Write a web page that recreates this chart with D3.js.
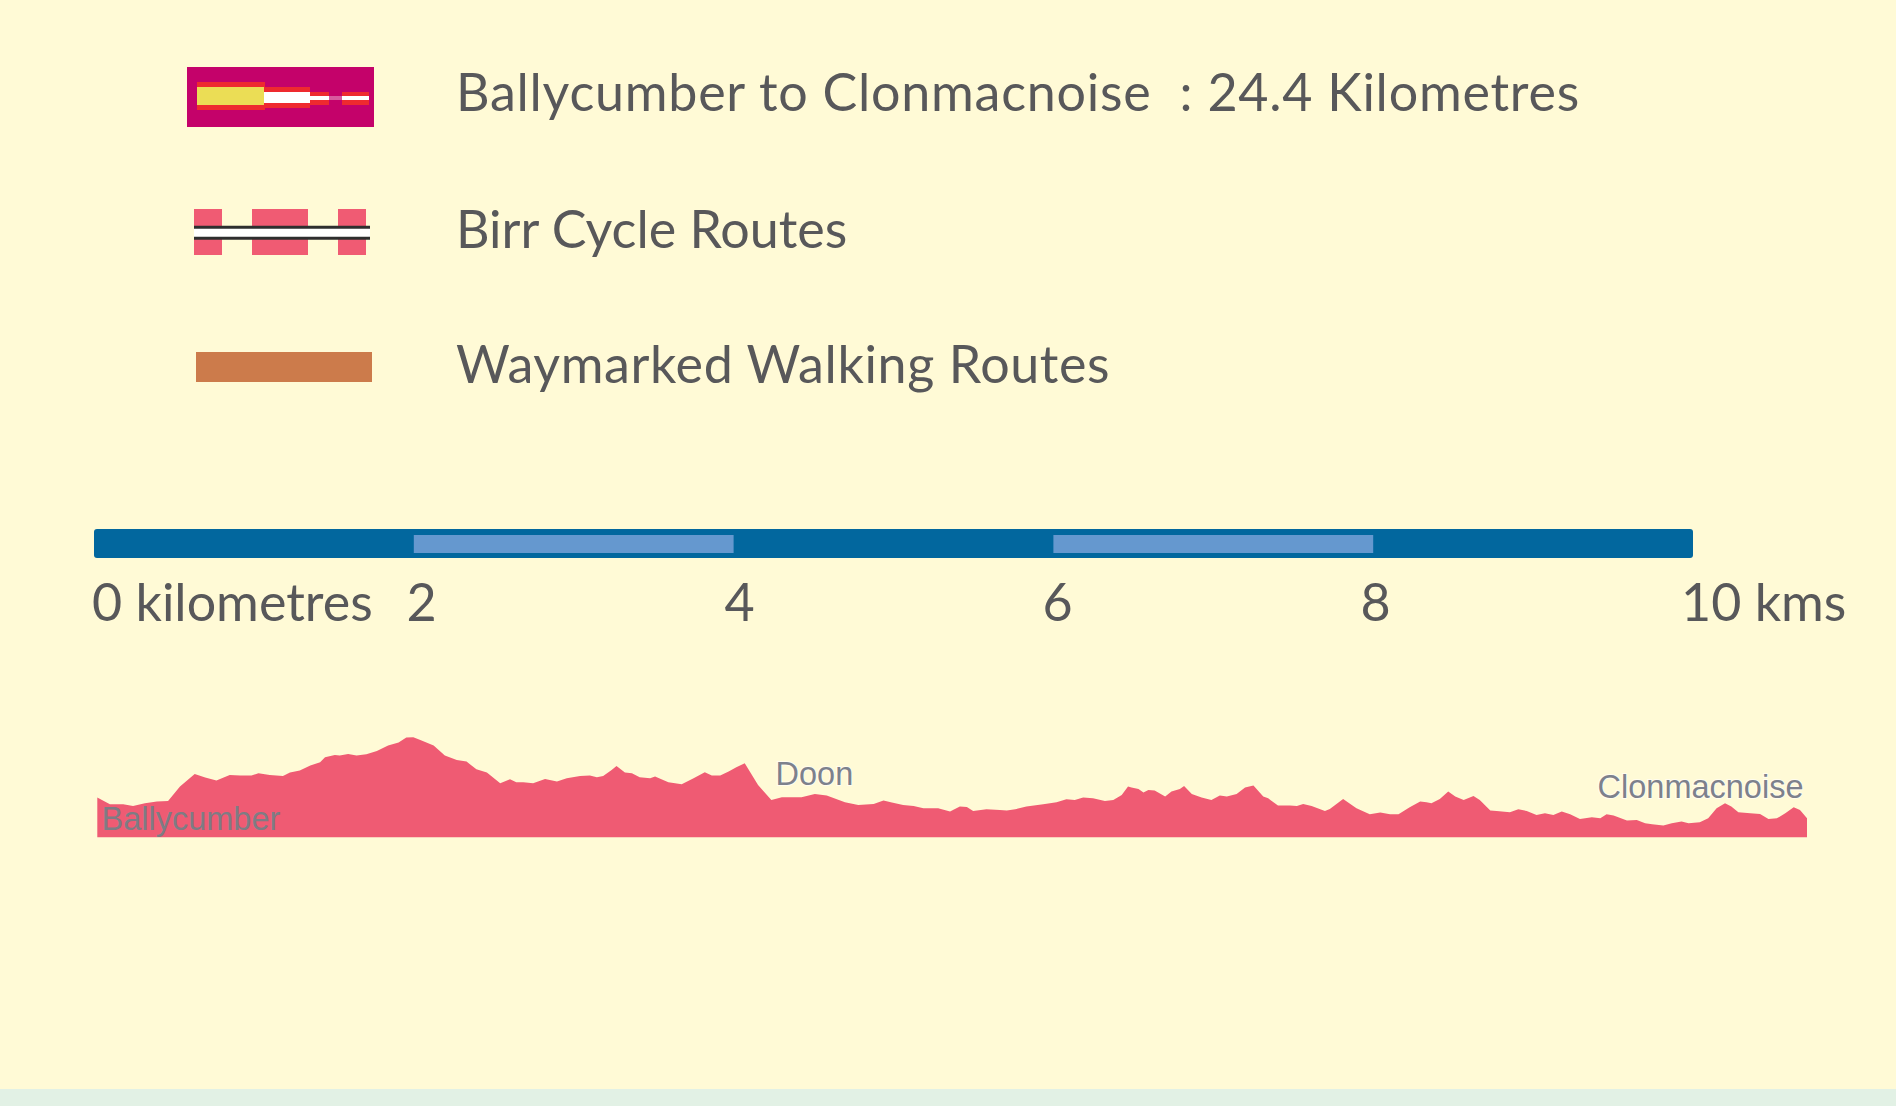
<!DOCTYPE html>
<html>
<head>
<meta charset="utf-8">
<script src="https://cdnjs.cloudflare.com/ajax/libs/d3/7.8.5/d3.min.js"></script>
<style>
  html, body { margin: 0; padding: 0; background: #fffad6; overflow: hidden; }
  svg { display: block; }
</style>
</head>
<body>
<svg id="chart"></svg>
<script>
// legend
const legendKeys = ['route', 'cycle', 'walk'];
const legendLabels = [
    'Ballycumber to Clonmacnoise  : 24.4 Kilometres',
    'Birr Cycle Routes',
    'Waymarked Walking Routes'
];

// scale bar (kilometres)
const scaleTicks = [0, 2, 4, 6, 8, 10];
const scaleTickLabels = ['0 kilometres', '2', '4', '6', '8', '10 kms'];
const scaleBands = [[2, 4], [6, 8]];

// elevation profile, distance along route (km) and height (approx, m)
const profileKm = [
    0, 0.18, 0.37, 0.51, 0.68, 0.85, 1.01, 1.18, 1.39, 1.54, 1.70, 1.89, 2.04, 2.20, 2.30, 2.46, 2.65, 2.75, 2.89, 3.04,
    3.18, 3.25, 3.39, 3.46, 3.58, 3.70, 3.84, 3.99, 4.15, 4.30, 4.41, 4.51, 4.61, 4.80, 4.96, 5.13, 5.27, 5.41, 5.56, 5.75,
    5.89, 5.98, 6.08, 6.22, 6.39, 6.56, 6.70, 6.89, 7.03, 7.13, 7.22, 7.34,
    7.41, 7.53, 7.63, 7.74, 7.89, 7.96, 8.15, 8.34, 8.51, 8.67, 8.77, 8.89, 9.01, 9.12, 9.24, 9.43, 9.62, 9.77, 10.05, 10.24,
    10.41, 10.67, 10.86, 11.08, 11.22, 11.34, 11.50, 11.65, 11.79, 12.00, 12.17, 12.31, 12.41, 12.50, 12.69, 12.88, 12.98, 13.10, 13.26, 13.50,
    13.69, 13.83, 13.95, 14.07, 14.21, 14.38, 14.50, 14.62, 14.71, 14.76,
    14.86, 14.93, 15.00, 15.09, 15.24, 15.33, 15.45, 15.51, 15.62, 15.76, 15.90, 16.02, 16.12, 16.26, 16.38, 16.50, 16.64, 16.71, 16.85, 17.02,
    17.12, 17.21, 17.33, 17.52, 17.59, 17.78, 17.97, 18.16, 18.31, 18.45, 18.57, 18.73, 18.88, 18.97, 19.04, 19.16, 19.28, 19.38, 19.50, 19.64,
    19.73, 19.88, 19.97, 20.16, 20.28, 20.40, 20.54, 20.66, 20.78, 20.90, 21.02, 21.16, 21.33, 21.45, 21.54, 21.64, 21.83, 21.97, 22.09, 22.19,
    22.35, 22.47, 22.61, 22.71, 22.87, 22.99, 23.11, 23.23, 23.32, 23.42, 23.59, 23.73, 23.85, 23.97, 24.09, 24.21, 24.30, 24.40
];
const profileHeight = [
    39.7, 33, 33, 31.3, 34, 35.7, 36.3, 50.7, 63.3, 59.7, 56.7, 62.3, 61.7, 61.7, 64, 62.3, 61.3, 64.7, 66.7, 71.7,
    75, 80, 82.3, 81.7, 83.3, 81.7, 83, 86.3, 91.7, 94.7, 99.7, 100, 97.3, 91.7, 81.7, 77.3, 75.7, 68, 64.7, 54,
    58, 55, 55, 54, 58.3, 55.7, 59, 61.3, 61.7, 60, 61.3, 67.3,
    71.3, 64.7, 64, 60, 59, 60.7, 55, 53, 59, 65, 61.7, 61.7, 65.7, 70, 74, 52.3, 37.3, 40, 40, 43.3,
    41.7, 35, 32.3, 33.3, 36.7, 34.7, 32.3, 31.3, 29, 29, 25.7, 30.7, 30.3, 26.3, 28, 27.3, 26.7, 28, 30.7, 33,
    35, 38, 37.3, 39.7, 39, 36.3, 37.3, 42.3, 50.7, 49.7,
    48.3, 44.7, 47.3, 46.7, 40.7, 45.7, 48.3, 51.3, 43.3, 39.7, 37.3, 41.7, 40.7, 43.3, 49.7, 51.7, 40.7, 39, 31.7, 31.7,
    31.3, 33.3, 31.3, 26.3, 28.3, 38.3, 29, 23, 24.7, 23, 23, 30, 35.7, 35, 34, 38.3, 45.7, 40.7, 37.3, 41.3,
    37.3, 26.7, 26.3, 25, 28, 26.3, 22.3, 24, 22.3, 25.7, 23, 18.3, 20, 19, 23, 21.7, 16.7, 17.3, 14, 13,
    11.7, 14, 15.7, 14, 15, 19, 29, 34, 30.7, 25, 24, 23.3, 18.3, 19, 24, 30, 27.3, 19
];

// place names on the profile (anchor distance / height)
const placeNames = ['Ballycumber', 'Doon', 'Clonmacnoise'];
const placeKm = [0.06, 9.68, 24.35];
const placeHeight = [7, 52, 39];

const width = 1896, height = 1106;
const legendFont = 'Lato, "Noto Sans", sans-serif';
const textGrey = '#58585a';

const svg = d3.select('#chart')
    .attr('width', width)
    .attr('height', height);

// fondo
svg.append('rect').attr('width', width).attr('height', height).attr('fill', '#fffad6');
svg.append('rect').attr('y', 1089).attr('width', width).attr('height', height - 1089).attr('fill', '#e2f1e5');

// LEYENDA
const rowY = d3.scalePoint().domain(legendKeys).range([97, 367]);

const legend = svg.append('g');
legendKeys.forEach((key, i) => {
    const g = legend.append('g').attr('transform', `translate(0, ${rowY(key)})`);

    if (key === 'route') {
        g.append('rect').attr('x', 187).attr('y', -30).attr('width', 187).attr('height', 60).attr('fill', '#c4026a');
        // bordes rojos
        g.append('rect').attr('x', 197).attr('y', -15).attr('width', 68).attr('height', 28).attr('fill', '#ee2a2f');
        g.append('rect').attr('x', 264).attr('y', -10).attr('width', 46).attr('height', 21).attr('fill', '#ee2a2f');
        g.append('rect').attr('x', 310).attr('y', -5).attr('width', 19).attr('height', 13).attr('fill', '#ee2a2f');
        g.append('rect').attr('x', 342).attr('y', -5).attr('width', 27).attr('height', 13).attr('fill', '#ee2a2f');
        // relleno
        g.append('rect').attr('x', 197).attr('y', -10).attr('width', 67).attr('height', 18).attr('fill', '#ebdd55');
        g.append('rect').attr('x', 264).attr('y', -5).attr('width', 46).attr('height', 11).attr('fill', '#ffffff');
        g.append('rect').attr('x', 310).attr('y', -1).attr('width', 59).attr('height', 4).attr('fill', '#ffffff').attr('opacity', 0.35);
        g.append('rect').attr('x', 310).attr('y', -1).attr('width', 19).attr('height', 4).attr('fill', '#ffffff');
        g.append('rect').attr('x', 342).attr('y', -1).attr('width', 27).attr('height', 4).attr('fill', '#ffffff');
    } else if (key === 'cycle') {
        [[194, 28], [252, 56], [338, 28]].forEach(([x, w]) => {
            g.append('rect').attr('x', x).attr('y', -23).attr('width', w).attr('height', 46).attr('fill', '#f05b73');
        });
        g.append('rect').attr('x', 194).attr('y', -5).attr('width', 176).attr('height', 11).attr('fill', '#ffffff');
        [-4.7, 6.3].forEach(dy => {
            g.append('line').attr('x1', 194).attr('x2', 370).attr('y1', dy).attr('y2', dy)
                .attr('stroke', '#2e2e2e').attr('stroke-width', 3);
        });
    } else {
        g.append('rect').attr('x', 196).attr('y', -15).attr('width', 176).attr('height', 30).attr('fill', '#cc7b4b');
    }

    g.append('text')
        .attr('x', 456)
        .attr('y', i === 0 ? 14 : 16)
        .attr('font-family', legendFont)
        .attr('font-size', '52px')
        .attr('letter-spacing', i === 1 ? '0px' : (i === 0 ? '0.75px' : '0.6px'))
        .attr('fill', textGrey)
        .style('white-space', 'pre')
        .text(legendLabels[i]);
});

// BARRA DE ESCALA
const xScale = d3.scaleLinear().domain([0, 10]).range([94, 1693]);

svg.append('rect')
    .attr('x', xScale(0)).attr('y', 529)
    .attr('width', xScale(10) - xScale(0)).attr('height', 29)
    .attr('rx', 3)
    .attr('fill', '#02679e');

svg.selectAll('.band')
    .data(scaleBands)
    .join('rect')
    .attr('class', 'band')
    .attr('x', d => xScale(d[0]))
    .attr('y', 535)
    .attr('width', d => xScale(d[1]) - xScale(d[0]))
    .attr('height', 18)
    .attr('fill', '#6598cf');

svg.selectAll('.tick-label')
    .data(scaleTicks)
    .join('text')
    .attr('class', 'tick-label')
    .attr('x', (d, i) => {
        if (i === 0) return xScale(d) - 2;
        if (i === scaleTicks.length - 1) return xScale(d) - 12;
        return xScale(d) + 9.5 - i * 1.8;
    })
    .attr('y', 621)
    .attr('text-anchor', (d, i) => (i === 0 || i === scaleTicks.length - 1) ? 'start' : 'middle')
    .attr('font-family', legendFont)
    .attr('font-size', '52px')
    .attr('fill', textGrey)
    .text((d, i) => scaleTickLabels[i]);

// PERFIL DE ELEVACIÓN
const profile = profileKm.map((km, i) => ({ km, h: profileHeight[i] }));

const xProf = d3.scaleLinear().domain([0, 24.4]).range([97.3, 1807]);
const yProf = d3.scaleLinear().domain([0, 100]).range([837.3, 737.3]);

const area = d3.area()
    .x(d => xProf(d.km))
    .y0(yProf(0))
    .y1(d => yProf(d.h));

svg.append('path')
    .datum(profile)
    .attr('d', area)
    .attr('fill', '#ef5b73');

// nombres de lugares
placeNames.forEach((name, i) => {
    const t = svg.append('text')
        .attr('x', xProf(placeKm[i]))
        .attr('y', yProf(placeHeight[i]))
        .attr('text-anchor', i === placeNames.length - 1 ? 'end' : 'start')
        .attr('font-family', '"Liberation Sans", Arial, sans-serif')
        .attr('font-size', '32.5px')
        .text(name);
    if (i === 0) {
        t.attr('fill', '#7e7c84');
    } else {
        t.attr('fill', '#7d818c')
            .attr('stroke', '#ffffff')
            .attr('stroke-opacity', 0.6)
            .attr('stroke-width', 2)
            .attr('paint-order', 'stroke');
    }
});
</script>
</body>
</html>
